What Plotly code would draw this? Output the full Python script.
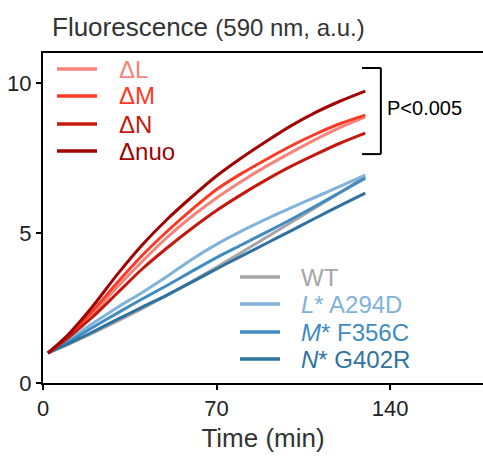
import plotly.graph_objects as go

time_min = [2, 10, 20, 30, 40, 50, 60, 70, 80, 90, 100, 110, 120, 130]

dL   = [1.0, 1.52, 2.3, 3.2, 4.05, 4.85, 5.55, 6.17, 6.72, 7.22, 7.68, 8.12, 8.52, 8.87]
dM   = [1.0, 1.55, 2.4, 3.35, 4.25, 5.05, 5.78, 6.45, 6.98, 7.45, 7.9, 8.3, 8.65, 8.93]
dN   = [1.0, 1.5, 2.2, 3.0, 3.8, 4.5, 5.15, 5.75, 6.28, 6.77, 7.22, 7.62, 8.0, 8.33]
dnuo = [1.0, 1.6, 2.55, 3.62, 4.6, 5.45, 6.2, 6.9, 7.5, 8.05, 8.57, 9.02, 9.4, 9.73]

wt     = [1.0, 1.28, 1.66, 2.06, 2.48, 2.92, 3.38, 3.86, 4.35, 4.85, 5.35, 5.85, 6.36, 6.87]
l_a294 = [1.0, 1.42, 1.98, 2.52, 3.02, 3.55, 4.12, 4.62, 5.06, 5.46, 5.84, 6.2, 6.56, 6.93]
m_f356 = [1.0, 1.35, 1.85, 2.33, 2.8, 3.25, 3.72, 4.18, 4.6, 5.02, 5.45, 5.9, 6.36, 6.83]
n_g402 = [1.0, 1.3, 1.7, 2.12, 2.53, 2.93, 3.36, 3.8, 4.23, 4.65, 5.07, 5.5, 5.92, 6.33]

x_ticks = [0, 70, 140]
y_ticks = [0, 5, 10]

red_names = ["ΔL", "ΔM", "ΔN", "Δnuo"]
red_values = [dL, dM, dN, dnuo]
red_colors = ["#f7837a", "#fb3a26", "#c4190f", "#a10303"]

blue_names = ["WT", "<i>L</i>* A294D", "<i>M</i>* F356C", "<i>N</i>* G402R"]
blue_values = [wt, l_a294, m_f356, n_g402]
blue_colors = ["#a5a5a7", "#80b3d9", "#3f8bc2", "#2f72a0"]

sig_label = "P<0.005"

FONT = "Liberation Sans, Arial, sans-serif"
W, H = 483, 457
ML, MR, MT, MB = 43, 0, 53, 74
PW, PH = W - ML - MR, H - MT - MB


def px(xp):
    return (xp - ML) / PW


def py(yp):
    return (H - MB - yp) / PH


fig = go.Figure()
for name, ys, col in zip(blue_names, blue_values, blue_colors):
    fig.add_trace(go.Scatter(x=time_min, y=ys, mode="lines", name=name, hoverinfo="skip",
                             line=dict(color=col, width=3, shape="spline", smoothing=0.8)))
for name, ys, col in zip(red_names, red_values, red_colors):
    fig.add_trace(go.Scatter(x=time_min, y=ys, mode="lines", name=name, hoverinfo="skip",
                             line=dict(color=col, width=3, shape="spline", smoothing=0.8)))


def add_legend(names, colors, x_line0, x_line1, x_text, y_rows):
    for name, col, yy in zip(names, colors, y_rows):
        fig.add_shape(type="line", xref="paper", yref="paper", x0=px(x_line0), x1=px(x_line1),
                      y0=py(yy), y1=py(yy), line=dict(color=col, width=3.5))
        fig.add_annotation(xref="paper", yref="paper", x=px(x_text), y=py(yy), text=name,
                           showarrow=False, xanchor="left", yanchor="middle",
                           font=dict(size=24, color=col, family=FONT))

add_legend(red_names, red_colors, 57, 97, 117, [69, 96, 124, 151])
add_legend(blue_names, blue_colors, 240, 280, 299, [277, 304, 332, 359])

# significance bracket
br_x0, br_x1 = 128.7, 136.3
br_y0, br_y1 = 7.63, 10.5
for yy in (br_y0, br_y1):
    fig.add_shape(type="line", x0=br_x0, x1=br_x1, y0=yy, y1=yy, line=dict(color="black", width=2))
fig.add_shape(type="line", x0=br_x1, x1=br_x1, y0=br_y0, y1=br_y1, line=dict(color="black", width=2))
fig.add_annotation(x=br_x1 + 1.5, y=9.17, text=sig_label, showarrow=False,
                   xanchor="left", yanchor="middle", font=dict(size=20, color="black", family=FONT))

fig.add_annotation(xref="paper", yref="paper", x=px(50), y=py(27), xanchor="left", yanchor="middle",
                   text="Fluorescence <span style='font-size:24px'>(590 nm, a.u.)</span>",
                   showarrow=False, font=dict(size=26, color="#333333", family=FONT))

fig.update_layout(
    width=W, height=H,
    margin=dict(l=ML, r=MR, t=MT, b=MB, autoexpand=False),
    plot_bgcolor="white", paper_bgcolor="white",
    font=dict(family=FONT, size=22, color="#222222"),
    showlegend=False,
    xaxis=dict(range=[0, 177.5], tickvals=x_ticks, showline=True, linecolor="black", linewidth=2,
               mirror=True, ticks="outside", ticklen=5, tickwidth=2, tickcolor="black", automargin=False,
               showgrid=False, zeroline=False, tickfont=dict(size=22, color="#222222"),
               title=dict(text="Time (min)", font=dict(size=26, color="#333333"), standoff=8)),
    yaxis=dict(range=[0, 11], tickvals=y_ticks, showline=True, linecolor="black", linewidth=2,
               ticks="outside", ticklen=5, tickwidth=2, tickcolor="black", automargin=False,
               showgrid=False, zeroline=False, tickfont=dict(size=22, color="#222222")),
)

fig.write_html("out.html", config={"displayModeBar": False, "staticPlot": True},
               post_script="document.body.style.margin='0';document.body.style.overflow='hidden';")
